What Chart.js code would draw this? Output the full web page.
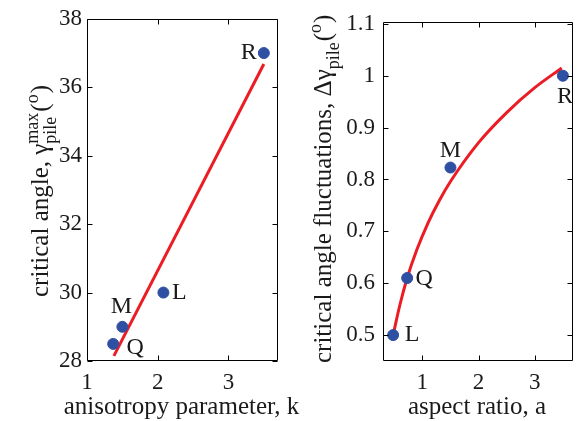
<!DOCTYPE html>
<html>
<head>
<meta charset="utf-8">
<script src="https://cdn.jsdelivr.net/npm/chart.js@4/dist/chart.umd.min.js"></script>
<style>
    html, body { margin: 0; padding: 0; background: #fff; }
    #wrap { position: relative; width: 583px; height: 421px; overflow: hidden; }
    #leftChart { position: absolute; left: 0; top: 0; }
    #rightChart { position: absolute; left: 290px; top: 0; }
</style>
</head>
<body>
<div id="wrap">
    <canvas id="leftChart" width="310" height="421"></canvas>
    <canvas id="rightChart" width="293" height="421"></canvas>
</div>
<script>
// left panel: critical angle vs anisotropy parameter
const kNames = ['R', 'L', 'M', 'Q'];
const kValues = [3.50, 2.08, 1.50, 1.37];
const angleMax = [37.0, 30.0, 29.0, 28.5];
const kFitX = [1.38, 3.50];
const kFitY = [28.15, 36.68];
const kTicks = [1, 2, 3];
const angleTicks = [28, 30, 32, 34, 36, 38];

// right panel: angle fluctuations vs aspect ratio
const aNames = ['R', 'M', 'Q', 'L'];
const aValues = [3.50, 1.50, 0.73, 0.48];
const angleFluct = [1.0, 0.823, 0.61, 0.50];
const aFitX = [0.48, 0.6, 0.73, 0.9, 1.1, 1.3, 1.5, 2.0, 2.5, 3.0, 3.48];
const aFitY = [0.50, 0.558, 0.61, 0.664, 0.716, 0.759, 0.796, 0.871, 0.929, 0.977, 1.015];
const aTicks = [1, 2, 3];
const fluctTicks = [0.5, 0.6, 0.7, 0.8, 0.9, 1, 1.1];

const SERIF = '"Liberation Serif", "Times New Roman", serif';
const BLUE = '#2f4fa3';
const RED = '#ec1c24';
const INK = '#1a1a1a';

Chart.defaults.font.family = SERIF;
Chart.defaults.color = INK;

// draws text like "γ^max_pile(°)" rotated along the y axis
function drawRichText(ctx, parts, x, y, size) {
    ctx.save();
    ctx.translate(x, y);
    ctx.rotate(-Math.PI / 2);
    ctx.textAlign = 'left';
    ctx.textBaseline = 'alphabetic';
    ctx.fillStyle = INK;
    const small = Math.round(size * 0.7);
    let cx = 0;
    parts.forEach(p => {
        if (p.t) {
            ctx.font = size + 'px ' + SERIF;
            ctx.fillText(p.t, cx, 0);
            cx += ctx.measureText(p.t).width;
        } else {
            ctx.font = small + 'px ' + SERIF;
            let w = 0;
            if (p.sup) {
                ctx.fillText(p.sup, cx, -size * 0.42);
                w = Math.max(w, ctx.measureText(p.sup).width);
            }
            if (p.sub) {
                ctx.fillText(p.sub, cx, size * 0.3);
                w = Math.max(w, ctx.measureText(p.sub).width);
            }
            cx += w + 1;
        }
    });
    ctx.restore();
}

// matlab style box, inward ticks, point letters and axis titles
const matlabBox = {
    id: 'matlabBox',
    afterDatasetsDraw(chart, args, opts) {
        const { ctx, chartArea: a, scales } = chart;
        const L = Math.round(a.left) + 0.5, R = Math.round(a.right) - 0.5;
        const T = Math.round(a.top) + 0.5, B = Math.round(a.bottom) - 0.5;
        const tl = 5;
        ctx.save();
        ctx.strokeStyle = '#000';
        ctx.lineWidth = 1;
        ctx.beginPath();
        ctx.rect(L, T, R - L, B - T);
        scales.x.ticks.forEach(t => {
            const px = Math.round(scales.x.getPixelForValue(t.value)) + 0.5;
            ctx.moveTo(px, B); ctx.lineTo(px, B - tl);
            ctx.moveTo(px, T); ctx.lineTo(px, T + tl);
        });
        scales.y.ticks.forEach(t => {
            const py = Math.round(scales.y.getPixelForValue(t.value)) + 0.5;
            ctx.moveTo(L, py); ctx.lineTo(L + tl, py);
            ctx.moveTo(R, py); ctx.lineTo(R - tl, py);
        });
        ctx.stroke();

        ctx.fillStyle = INK;
        ctx.font = '24px ' + SERIF;
        ctx.textAlign = 'center';
        ctx.textBaseline = 'middle';
        chart.getDatasetMeta(0).data.forEach((pt, i) => {
            const off = opts.offsets[i];
            ctx.fillText(opts.names[i], pt.x + off[0], pt.y + off[1]);
        });

        ctx.font = '25px ' + SERIF;
        ctx.textBaseline = 'alphabetic';
        ctx.fillText(opts.xTitle, (a.left + a.right) / 2 - 1, opts.xTitleY);
        ctx.restore();

        drawRichText(ctx, opts.yTitle, opts.yTitleX, opts.yTitleY, 25);
    }
};

function makeChart(id, cfg) {
    return new Chart(document.getElementById(id), {
        type: 'scatter',
        data: {
            datasets: [
                {
                    data: cfg.px.map((x, i) => ({ x, y: cfg.py[i] })),
                    backgroundColor: BLUE,
                    borderColor: BLUE,
                    pointRadius: 5.5,
                    pointHoverRadius: 5.5
                },
                {
                    type: 'line',
                    data: cfg.fx.map((x, i) => ({ x, y: cfg.fy[i] })),
                    borderColor: RED,
                    borderWidth: 3,
                    pointRadius: 0,
                    cubicInterpolationMode: 'monotone',
                    fill: false
                }
            ]
        },
        options: {
            responsive: false,
            animation: false,
            devicePixelRatio: 1,
            layout: { padding: { top: 16, right: cfg.padRight, left: 0, bottom: 0 } },
            plugins: {
                legend: { display: false },
                tooltip: { enabled: false },
                matlabBox: {
                    names: cfg.names,
                    offsets: cfg.offsets,
                    xTitle: cfg.xTitle,
                    xTitleY: 414,
                    yTitle: cfg.yTitle,
                    yTitleX: cfg.yTitleX,
                    yTitleY: cfg.yTitleY
                }
            },
            scales: {
                x: {
                    type: 'linear',
                    min: cfg.xMin,
                    max: cfg.xMax,
                    grid: { display: false, drawTicks: false },
                    border: { display: false },
                    afterBuildTicks: s => { s.ticks = cfg.xTicks.map(v => ({ value: v })); },
                    afterFit: s => { s.height = 60; },
                    ticks: { font: { size: 23 }, padding: 8, maxRotation: 0, callback: v => String(v) }
                },
                y: {
                    type: 'linear',
                    min: cfg.yMin,
                    max: cfg.yMax,
                    grid: { display: false, drawTicks: false },
                    border: { display: false },
                    afterBuildTicks: s => { s.ticks = cfg.yTicks.map(v => ({ value: v })); },
                    afterFit: s => { s.width = cfg.yWidth; },
                    ticks: { font: { size: 23 }, padding: cfg.yPad, callback: v => String(v) }
                }
            }
        },
        plugins: [matlabBox]
    });
}

makeChart('leftChart', {
    px: kValues, py: angleMax, fx: kFitX, fy: kFitY, names: kNames,
    offsets: [[-15, 0], [16, 0], [-1, -20], [22, 4]],
    xMin: 1, xMax: 3.7, yMin: 28, yMax: 38,
    xTicks: kTicks, yTicks: angleTicks,
    yWidth: 87, yPad: 5, padRight: 32,
    xTitle: 'anisotropy parameter, k',
    yTitle: [{ t: 'critical angle, γ' }, { sup: 'max', sub: 'pile' }, { t: '(' }, { sup: 'o' }, { t: ')' }],
    yTitleX: 48, yTitleY: 297
});

makeChart('rightChart', {
    px: aValues, py: angleFluct, fx: aFitX, fy: aFitY, names: aNames,
    offsets: [[2, 21], [0, -17], [17, 1], [19, 0]],
    xMin: 0.3, xMax: 3.68, yMin: 0.45, yMax: 1.104,
    xTicks: aTicks, yTicks: fluctTicks,
    yWidth: 93, yPad: 8, padRight: 10,
    xTitle: 'aspect ratio, a',
    yTitle: [{ t: 'critical angle fluctuations, Δγ' }, { sub: 'pile' }, { t: '(' }, { sup: 'o' }, { t: ')' }],
    yTitleX: 41, yTitleY: 363
});
</script>
</body>
</html>
